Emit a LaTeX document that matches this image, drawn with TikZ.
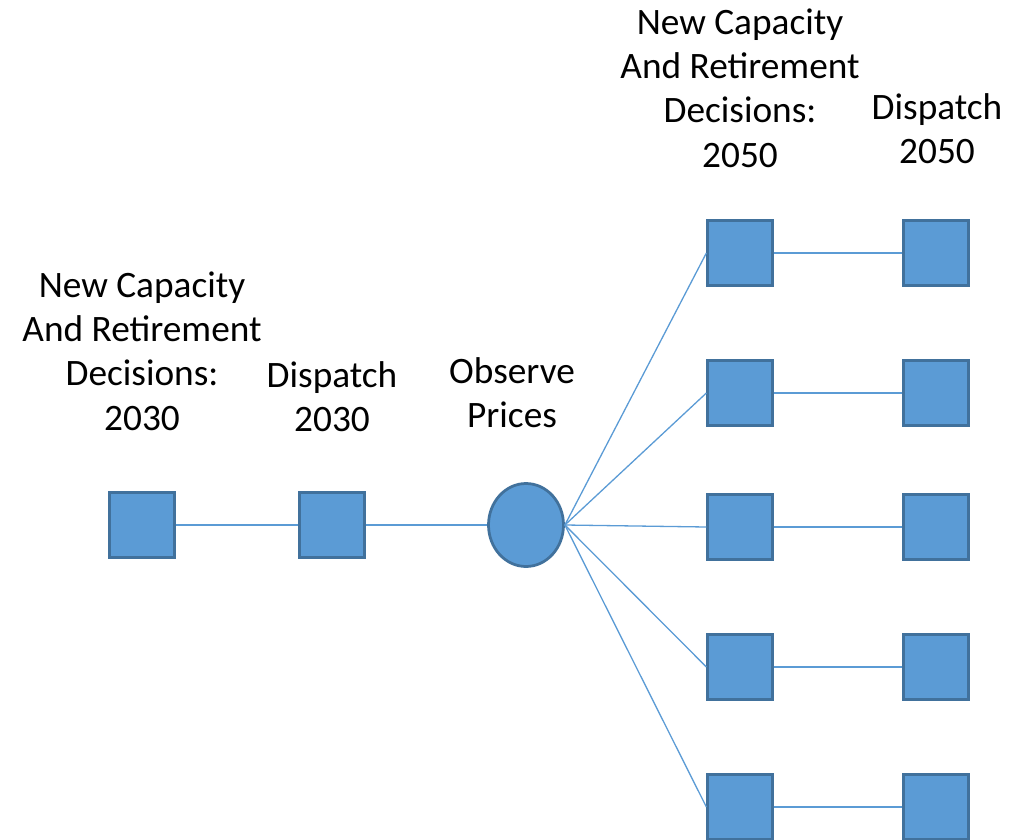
\documentclass[tikz,border=0pt]{standalone}
\usepackage{fontspec}
\setmainfont{Carlito}
\usepackage{tikz}
\usetikzlibrary{shapes.geometric, positioning}
\definecolor{boxfill}{HTML}{5B9BD5}
\definecolor{boxedge}{HTML}{41719C}
\tikzstyle{dnode} = [rectangle, draw=boxedge, fill=boxfill, line width=2.75pt, minimum size=64.5pt, inner sep=0pt]
\tikzstyle{pnode} = [ellipse, draw=boxedge, fill=boxfill, line width=2.75pt, minimum width=75pt, minimum height=83pt, inner sep=0pt]
\tikzstyle{line} = [draw=boxfill, line width=1.3pt]
\tikzstyle{lbl} = [align=center, inner sep=0pt, font=\fontsize{37.3}{44.3}\selectfont]

\begin{document}
\begin{tikzpicture}[x=1pt, y=-1pt]
	\useasboundingbox (0, 0) rectangle (1022, 840);

	% first stage
	\node [dnode] (cap2030) at (142, 525) {};
	\node [dnode] (disp2030) at (332, 525) {};
	\node [pnode] (prices) at (526, 525) {};

	% second stage, one row per price outcome
	\node [dnode] (cap2050a) at (740, 253) {};
	\node [dnode] (cap2050b) at (740, 393) {};
	\node [dnode] (cap2050c) at (740, 527) {};
	\node [dnode] (cap2050d) at (740, 667) {};
	\node [dnode] (cap2050e) at (740, 807) {};
	\node [dnode] (disp2050a) at (936, 253) {};
	\node [dnode] (disp2050b) at (936, 393) {};
	\node [dnode] (disp2050c) at (936, 527) {};
	\node [dnode] (disp2050d) at (936, 667) {};
	\node [dnode] (disp2050e) at (936, 807) {};

	% labels
	\node [lbl] (lcap2030) at (142, 351) {New Capacity\\And Retirement\\Decisions:\\2030};
	\node [lbl] (ldisp2030) at (332, 397) {Dispatch\\2030};
	\node [lbl] (lprices) at (512, 393) {Observe\\Prices};
	\node [lbl] (lcap2050) at (740, 88) {New Capacity\\And Retirement\\Decisions:\\2050};
	\node [lbl] (ldisp2050) at (937, 129) {Dispatch\\2050};

	\path [line] (cap2030) -- (disp2030);
	\path [line] (disp2030) -- (prices);
	\path [line] (prices.east) -- (cap2050a.west);
	\path [line] (prices.east) -- (cap2050b.west);
	\path [line] (prices.east) -- (cap2050c.west);
	\path [line] (prices.east) -- (cap2050d.west);
	\path [line] (prices.east) -- (cap2050e.west);
	\path [line] (cap2050a) -- (disp2050a);
	\path [line] (cap2050b) -- (disp2050b);
	\path [line] (cap2050c) -- (disp2050c);
	\path [line] (cap2050d) -- (disp2050d);
	\path [line] (cap2050e) -- (disp2050e);
\end{tikzpicture}
\end{document}
